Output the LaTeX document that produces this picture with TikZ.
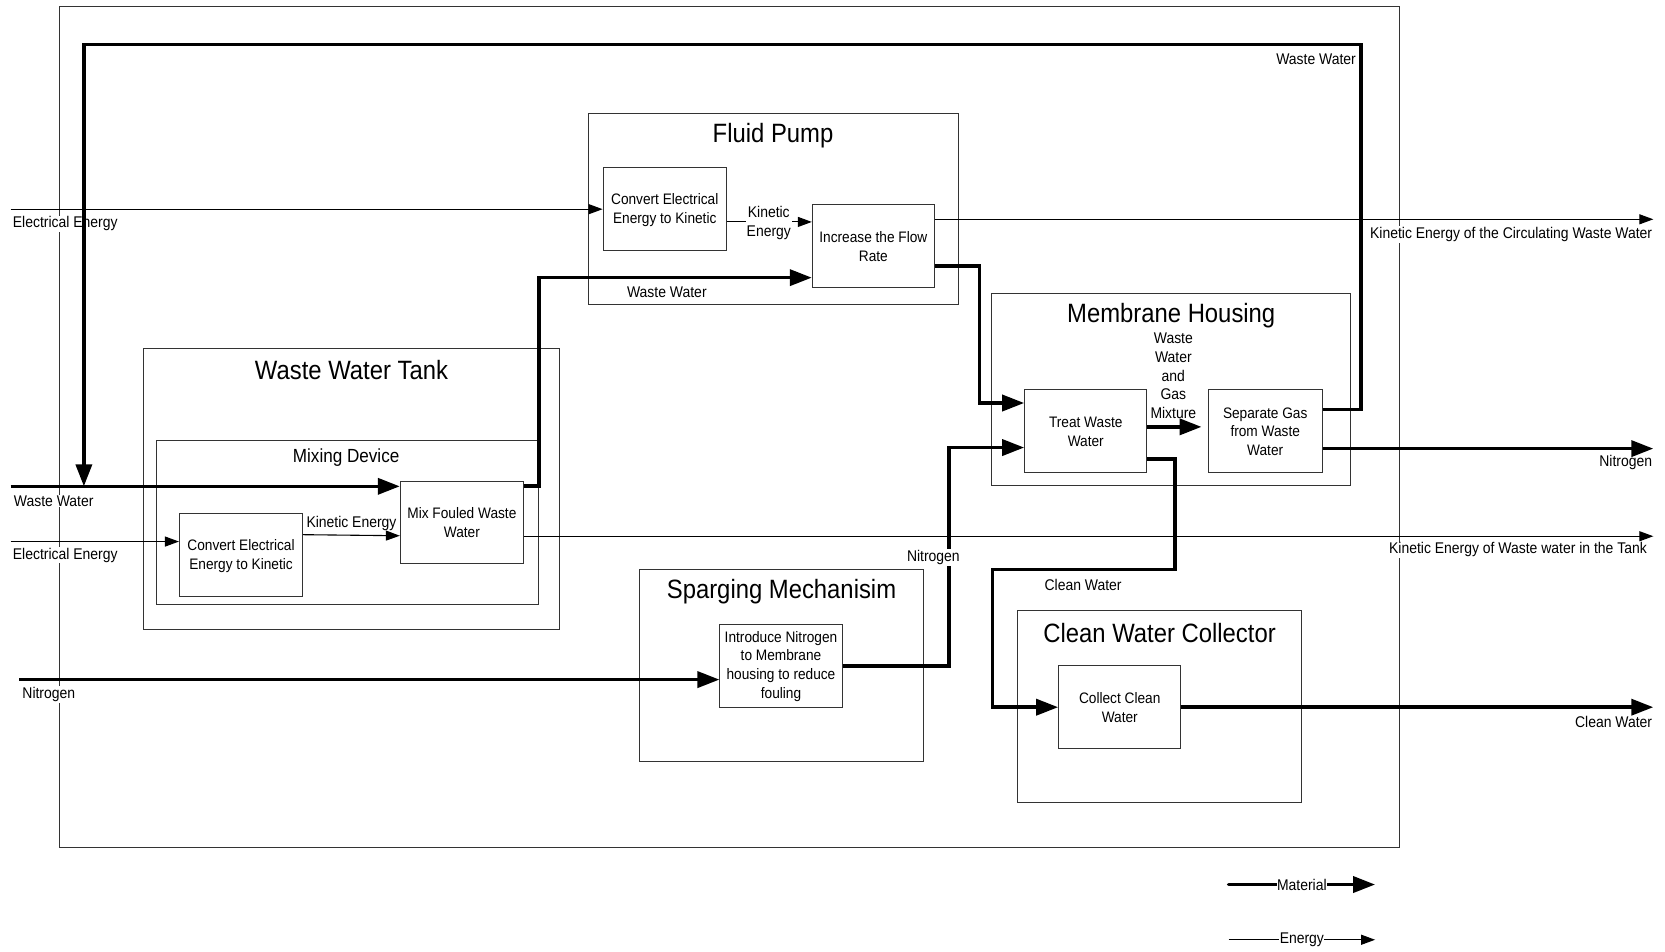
\documentclass[tikz,border=0pt]{standalone}
\usepackage{fontspec}
\setmainfont{Liberation Sans}[FakeStretch=0.9]
\usetikzlibrary{arrows.meta,fit,calc}
\begin{document}
\begin{tikzpicture}[x=1.0619pt,y=-1.0619pt,
  frame/.style={draw=black!80, line width=1pt, inner sep=0pt},
  box/.style={draw=black!80, line width=1pt, inner sep=0pt},
  btxt/.style={inner sep=0pt, align=center, yshift=-0.5pt,
    font=\fontsize{15.2}{18.8}\selectfont},
  ttl/.style={inner sep=0pt, yshift=-3pt, font=\fontsize{26.5}{30}\selectfont},
  subttl/.style={inner sep=0pt, yshift=-2pt, font=\fontsize{19}{22}\selectfont},
  lbl/.style={inner sep=1pt, fill=white, align=center, yshift=-2pt,
    font=\fontsize{15.5}{18.8}\selectfont},
  lgd/.style={inner sep=0.5pt, fill=white, font=\fontsize{15.5}{18.8}\selectfont},
  mat/.style={line width=3.6pt, -{Triangle[length=22pt,width=16pt]}},
  en/.style={line width=1.1pt, -{Triangle[length=14pt,width=10pt]}},
]
\useasboundingbox (0,0) rectangle (1568,896);

% system boundary and containers
\node[frame, fit={(56,6) (1318,798)}] (sys) {};
\node[frame, fit={(554,107) (903,287)}] (pump) {};
\node[frame, fit={(934,276) (1272,457)}] (mem) {};
\node[frame, fit={(135,328) (527,593)}] (tank) {};
\node[frame, fit={(147,415) (507,569)}] (mixd) {};
\node[frame, fit={(602,536) (870,717)}] (sparg) {};
\node[frame, fit={(958,575) (1226,756)}] (cwc) {};

% titles
\node[ttl] (pumpT) at (728,125) {Fluid Pump};
\node[ttl] (memT) at (1103,294) {Membrane Housing};
\node[ttl] (tankT) at (331,346) {Waste Water Tank};
\node[subttl] (mixdT) at (326,429) {Mixing Device};
\node[ttl] (spargT) at (736,554) {Sparging Mechanisim};
\node[ttl] (cwcT) at (1092,593) {Clean Water Collector};

% function boxes
\node[box, fit={(568,158) (684,236)}] (pconv) {};
\node[box, fit={(765,193) (880,271)}] (pinc) {};
\node[box, fit={(965,367) (1080,445)}] (treat) {};
\node[box, fit={(1138,367) (1245,445)}] (sep) {};
\node[box, fit={(169,484) (285,562)}] (tconv) {};
\node[box, fit={(377,453) (493,531)}] (mix) {};
\node[box, fit={(678,588) (793,666)}] (intro) {};
\node[box, fit={(997,627) (1112,705)}] (collect) {};
\node[btxt] (pconvT) at (pconv) {Convert Electrical\\Energy to Kinetic};
\node[btxt] (pincT) at (pinc) {Increase the Flow\\Rate};
\node[btxt] (treatT) at (treat) {Treat Waste\\Water};
\node[btxt] (sepT) at (sep) {Separate Gas\\from Waste\\Water};
\node[btxt] (tconvT) at (tconv) {Convert Electrical\\Energy to Kinetic};
\node[btxt] (mixT) at (mix) {Mix Fouled Waste\\Water};
\node[btxt] (introT) at (intro) {Introduce Nitrogen\\to Membrane\\housing to reduce\\fouling};
\node[btxt] (collectT) at (collect) {Collect Clean\\Water};

% free ends
\coordinate (eIn1) at (10,197);
\coordinate (wIn) at (10,458);
\coordinate (eIn2) at (10,510);
\coordinate (nIn) at (18,640);
\coordinate (outR) at (1557,0);
\coordinate (loopTL) at (79,42);
\coordinate (wwJoin) at (79,458);

% labels under connectors
\node[lbl, anchor=west] (lEl1) at (11,209) {Electrical Energy};
\node[lbl, anchor=west] (lWw) at (12,470) {Waste Water};
\node[lbl, anchor=west] (lEl2) at (11,521) {Electrical Energy};
\node[lbl, anchor=west] (lN2) at (20,652) {Nitrogen};
\node[lbl, anchor=east] (lWwTop) at (1278,54) {Waste Water};
\node[lbl, anchor=east] (lKcirc) at (1557,219) {Kinetic Energy of the Circulating Waste Water};
\node[lbl, anchor=east] (lNout) at (1557,434) {Nitrogen};
\node[lbl, anchor=east] (lKtank) at (1552,516) {Kinetic Energy of Waste water in the Tank};
\node[lbl, anchor=east] (lCout) at (1557,678) {Clean Water};
\node[lbl] (lWwPump) at (628,273) {Waste Water};
\node[lbl] (lKmix) at (331,491) {Kinetic Energy};
\node[lbl] (lMixt) at (1105,352) {Waste\\Water\\and\\Gas\\Mixture};
\node[lbl] (lCw) at (1020,549) {Clean Water};

% energy flows
\draw[en] (eIn1) -- (pconv.west);
\draw[en] ($(pconv.east)+(0,12)$) coordinate (k1) -- (k1 -| pinc.west);
\draw[en] ($(pinc.north east)+(0,14)$) coordinate (c1) -- (c1 -| outR);
\draw[en] (eIn2) -- (eIn2 -| tconv.west);
\draw[en] ($(tconv.north east)+(0,20)$) -- ($(mix.north west)+(0,52)$);
\draw[en] ($(mix.east)+(0,13)$) coordinate (t1) -- (t1 -| outR);

% material flows
\draw[mat] (wIn) -- (wIn -| mix.west);
\draw[mat] ($(mix.north east)+(0,5)$) -- ++(14,0) |- ($(pinc.south west)+(0,-10)$);
\draw[mat] ($(pinc.south east)+(0,-21)$) -- ++(42,0) |- ($(treat.north west)+(0,13)$);
\draw[mat] ($(treat.east)+(0,-4)$) coordinate (m1) -- ($(m1 -| sep.west)+(-6,0)$);
\draw[mat] ($(sep.north east)+(0,19)$) -- ++(36,0) |- (loopTL) -- (wwJoin);
\draw[mat] ($(sep.south east)+(0,-23)$) coordinate (n1) -- (n1 -| outR);
\draw[mat] ($(treat.south east)+(0,-13)$) -- ++(26,0) -- ++(0,104) -| ($(collect.west)+(-62,0)$) -- (collect.west);
\draw[mat] (nIn) -- (nIn -| intro.west);
\draw[mat] (intro.east) -- ++(100,0) |- ($(treat.south west)+(0,-24)$);
\draw[mat] (collect.east) -- (collect.east -| outR);

% labels over connectors
\node[lbl] (lKpump) at (724,208) {Kinetic\\Energy};
\node[lbl] (lNmid) at (879,523) {Nitrogen};

% legend
\coordinate (lm1) at (1157,833);
\coordinate (lm2) at (1295,833);
\coordinate (le1) at (1157,885);
\coordinate (le2) at (1295,885);
\draw[mat, line cap=round] (lm1) -- node[lgd] (lgM) {Material} (lm2);
\draw[en] (le1) -- node[lgd] (lgE) {Energy} (le2);
\end{tikzpicture}
\end{document}
